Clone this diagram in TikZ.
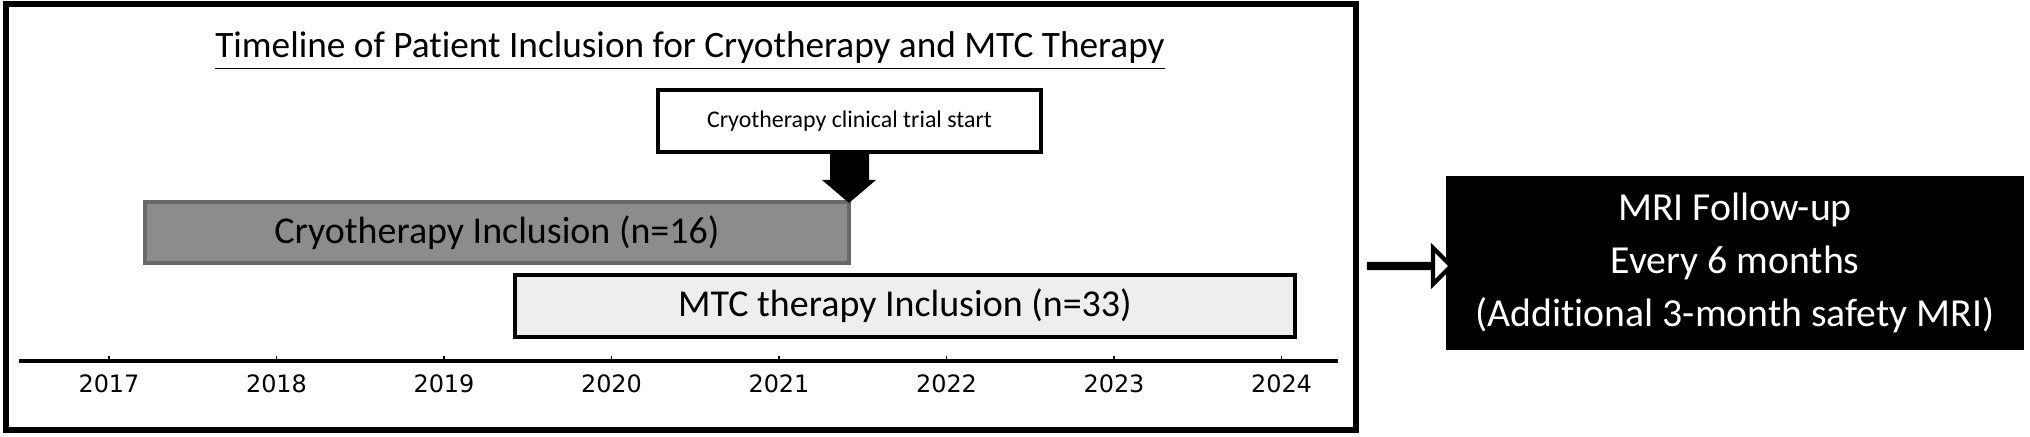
\documentclass[tikz,border=0pt]{standalone}
\usepackage{fontspec}
\setmainfont{Carlito}[Ligatures=NoCommon]
\newfontfamily\tickfont{DejaVu Sans}
\usetikzlibrary{shapes.arrows}
\definecolor{barGray}{RGB}{140,140,140}
\definecolor{barEdge}{RGB}{105,105,105}
\definecolor{barLight}{RGB}{238,238,238}
\begin{document}
\begin{tikzpicture}[x=0.01cm, y=-0.01cm,
    barbox/.style = {draw, line width=1.2pt, inner sep=0pt, font=\fontsize{10.8}{12}\selectfont},
    yearlabel/.style = {font=\tickfont\fontsize{6.8}{8}\selectfont}]
            %\draw [step = 100, help lines] (0,0) grid (2030,437);
            \useasboundingbox (0,0) rectangle (2030,437);
            \draw [line width=1.5pt] (6,4) rectangle (1356,430);

            \node (title) at (690,51) {\fontsize{10.6}{12}\selectfont\underline{Timeline of Patient Inclusion for Cryotherapy and MTC Therapy}};

            \node [draw, line width=1.2pt, minimum width=3.83cm, minimum height=0.62cm, inner sep=0pt,
                   font=\fontsize{6.8}{8}\selectfont] (start) at (849.5,121) {Cryotherapy clinical trial start};
            \node [barbox, draw=barEdge, fill=barGray, minimum width=7.04cm, minimum height=0.61cm] (cryo) at (497,232.5) {Cryotherapy Inclusion (n=16)};
            \node [barbox, fill=barLight, minimum width=7.80cm, minimum height=0.62cm] (mtc) at (905,306) {MTC therapy Inclusion (n=33)};

            % trial start marker
            \coordinate (tip) at (849,203);
            \fill (830,152) -- (869,152) -- (869,180) -- (876,180) -- (tip) -- (822,180) -- (830,180) -- cycle;

            % axis
            \coordinate (axL) at (19,361);
            \coordinate (axR) at (1338,361);
            \draw [line width=1pt] (axL) -- (axR);
            \foreach \yr [count = \i from 0] in {2017,...,2024}
            {
                \draw (109 + 167.5*\i, 361) -- ++(0,-5);
                \node [yearlabel] at (109 + 167.5*\i, 384) {\yr};
            }

            \node [fill=black, text=white, minimum width=5.78cm, minimum height=1.74cm, align=center,
                   font=\fontsize{11.3}{15}\selectfont] (mri) at (1735,263) {MRI Follow-up\\Every 6 months\\(Additional 3-month safety MRI)};

            \node [single arrow, draw, line width=1.2pt, fill=white, minimum height=0.82cm, minimum width=0.36cm,
                   single arrow head extend=0.16cm, single arrow head indent=0cm, inner sep=0pt] (goes) at (1409,266) {};
        \end{tikzpicture}
\end{document}
